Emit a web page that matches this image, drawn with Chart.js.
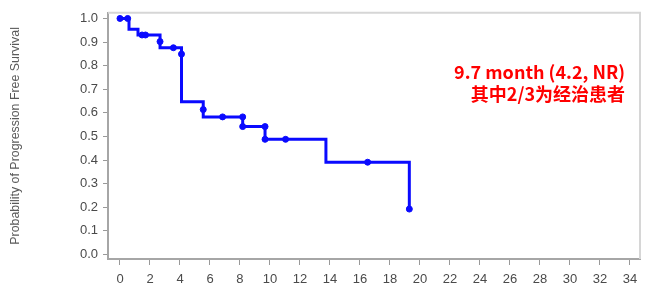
<!DOCTYPE html>
<html>
<head>
<meta charset="utf-8">
<script src="https://cdn.jsdelivr.net/npm/chart.js@4"></script>
<style>
  body { margin: 0; background: #fff; }
</style>
</head>
<body>
<canvas id="kmChart" width="655" height="299"></canvas>
<script>
// --- DATA ---
// step points of the curve (time in months, survival after the drop)
const kmTime = [0, 0.6, 1.2, 2.67, 2.67, 4.1, 4.1, 5.55, 5.55, 8.18, 9.67, 13.73, 19.29];
const kmSurv = [1.0, 0.954, 0.93, 0.902, 0.876, 0.849, 0.647, 0.614, 0.583, 0.542, 0.488, 0.391, 0.1925];

// dots drawn on the curve
const dotTime = [0, 0.51, 1.47, 1.7, 2.67, 3.56, 4.1, 5.55, 6.84, 8.18, 8.18, 9.67, 9.67, 11.04, 16.51, 19.29];
const dotSurv = [1.0, 1.0, 0.93, 0.93, 0.902, 0.876, 0.849, 0.614, 0.583, 0.583, 0.542, 0.542, 0.488, 0.488, 0.391, 0.1925];

const xTicks = [0, 2, 4, 6, 8, 10, 12, 14, 16, 18, 20, 22, 24, 26, 28, 30, 32, 34];
const yTicks = [0, 0.1, 0.2, 0.3, 0.4, 0.5, 0.6, 0.7, 0.8, 0.9, 1.0];

const yTitle = "Probability of Progression Free Survival";
const noteLines = ["9.7 month (4.2, NR)", "其中2/3为经治患者"];

const toPoints = (xs, ys) => xs.map((x, i) => ({ x, y: ys[i] }));

// --- BOX + NOTE ---
const extras = {
    id: "extras",
    afterDraw(chart) {
        const { ctx, chartArea: a } = chart;
        ctx.save();
        ctx.strokeStyle = "#d6d6d6";
        ctx.lineWidth = 2;
        ctx.beginPath();
        ctx.moveTo(a.left, a.top);
        ctx.lineTo(a.right, a.top);
        ctx.lineTo(a.right, a.bottom);
        ctx.stroke();

        ctx.fillStyle = "#ff0000";
        ctx.textAlign = "right";
        ctx.textBaseline = "middle";
        ctx.font = 'bold 18px "Noto Sans CJK SC", "Noto Sans", sans-serif';
        ctx.fillText(noteLines[0], 625, 72);
        ctx.fillText(noteLines[1], 625, 94);
        ctx.restore();
    }
};

const tickFont = { family: '"Liberation Sans", Arial, sans-serif', size: 13 };

new Chart(document.getElementById("kmChart"), {
    type: "line",
    data: {
        datasets: [
            {
                data: toPoints(kmTime, kmSurv),
                stepped: true,
                borderColor: "#0a0aff",
                borderWidth: 3,
                pointRadius: 0,
                fill: false
            },
            {
                type: "scatter",
                data: toPoints(dotTime, dotSurv),
                backgroundColor: "#0a0aff",
                borderColor: "#0a0aff",
                pointRadius: 3,
                showLine: false
            }
        ]
    },
    options: {
        responsive: false,
        animation: false,
        layout: { padding: { left: 0, top: 9, right: 15, bottom: 0 } },
        plugins: { legend: { display: false }, tooltip: { enabled: false } },
        scales: {
            x: {
                type: "linear",
                min: -0.8,
                max: 34.67,
                afterFit: s => { s.height = 40; },
                afterBuildTicks: s => { s.ticks = xTicks.map(v => ({ value: v })); },
                ticks: { color: "#4a4a4a", font: tickFont, padding: 7, autoSkip: false, maxRotation: 0 },
                grid: { drawOnChartArea: false, color: "#999", tickLength: 6 },
                border: { color: "#a6a6a6", width: 2 }
            },
            y: {
                type: "linear",
                min: -0.019,
                max: 1.024,
                afterFit: s => { s.width = 108; },
                afterBuildTicks: s => { s.ticks = yTicks.map(v => ({ value: v })); },
                ticks: { color: "#4a4a4a", font: tickFont, padding: 5, callback: v => v.toFixed(1) },
                grid: { drawOnChartArea: false, color: "#999", tickLength: 5 },
                border: { color: "#a6a6a6", width: 2 },
                title: {
                    display: true,
                    text: yTitle,
                    color: "#5a5a5a",
                    font: { family: '"Liberation Sans", Arial, sans-serif', size: 12.4 },
                    padding: { top: 8, bottom: 0 }
                }
            }
        }
    },
    plugins: [extras]
});
</script>
</body>
</html>
